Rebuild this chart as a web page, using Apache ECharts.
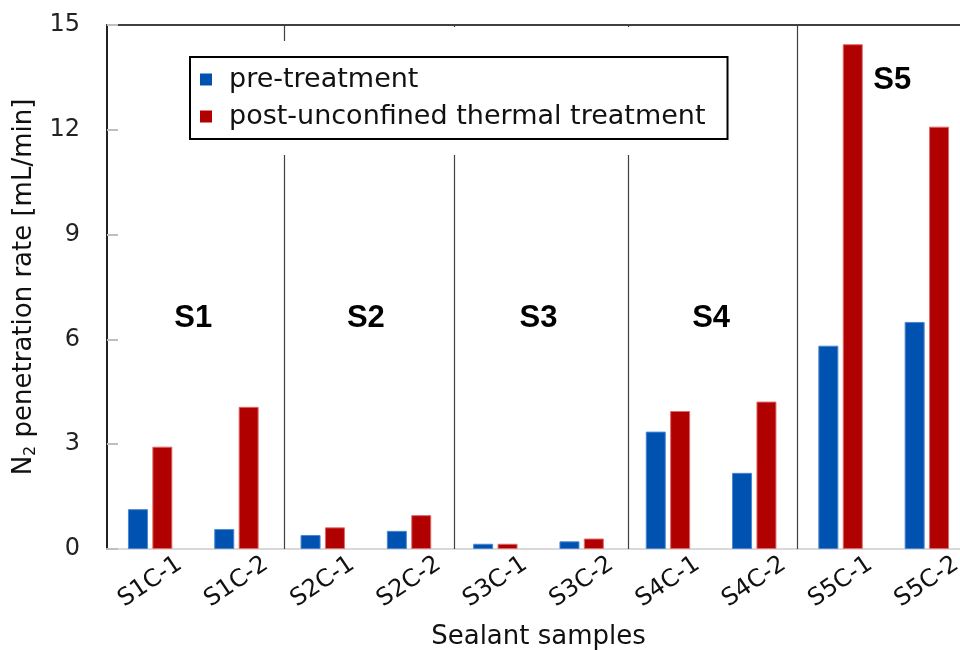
<!DOCTYPE html>
<html>
<head>
<meta charset="utf-8">
<script src="https://cdn.jsdelivr.net/npm/echarts@6/dist/echarts.min.js"></script>
<style>html,body{margin:0;padding:0;background:#fff}#c{width:960px;height:650px}</style>
</head>
<body>
<div id="c"></div>
<script>
const categories = ['S1C-1','S1C-2','S2C-1','S2C-2','S3C-1','S3C-2','S4C-1','S4C-2','S5C-1','S5C-2'];
const preTreatment = [1.14, 0.57, 0.40, 0.52, 0.15, 0.22, 3.36, 2.18, 5.82, 6.50];
const postTreatment = [2.93, 4.07, 0.62, 0.97, 0.15, 0.30, 3.95, 4.22, 14.45, 12.09];
const seriesNames = ['pre-treatment', 'post-unconfined thermal treatment'];
const yTicks = [0, 3, 6, 9, 12, 15];
const groupSeparators = [2.05, 4.02, 6.04, 8.0];
const groupNames = ['S1', 'S2', 'S3', 'S4', 'S5'];
const groupLabelX = [1, 3, 5, 7, 9.1];
const groupLabelY = [6.6, 6.6, 6.6, 6.6, 13.4];

const FONT = 'DejaVu Sans';
const chart = echarts.init(document.getElementById('c'));
chart.setOption({
  animation: false,
  backgroundColor: '#fff',
  grid: { left: 107, right: -10, top: 25, bottom: 101, containLabel: false, outerBoundsMode: 'none' },
  legend: {
    orient: 'vertical', left: 190, top: 57,
    backgroundColor: '#fff', borderColor: '#000', borderWidth: 2,
    padding: [9, 22, 9, 10],
    itemWidth: 12, itemHeight: 12, itemGap: 10,
    icon: 'rect',
    itemStyle: { borderWidth: 0 },
    textStyle: { fontFamily: FONT, fontSize: 27, color: '#111', padding: [0, 0, 0, 12] },
    data: seriesNames,
    z: 10
  },
  graphic: [{
    type: 'rect', z: 8, silent: true,
    shape: { x: 190, y: 41, width: 110, height: 114 },
    style: { fill: '#fff' }
  }, {
    type: 'rect', z: 8, silent: true,
    shape: { x: 300, y: 27, width: 435, height: 128 },
    style: { fill: '#fff' }
  }],
  xAxis: [{
    type: 'category', data: categories, position: 'bottom',
    axisLine: { lineStyle: { color: '#d9d9d9', width: 2 } },
    axisTick: { show: false },
    axisLabel: { rotate: 34, align: 'center', verticalAlign: 'middle', margin: 33,
      fontFamily: FONT, fontSize: 24, color: '#111', interval: 0 },
    name: 'Sealant samples', nameLocation: 'middle', nameGap: 75,
    nameTextStyle: { fontFamily: FONT, fontSize: 26, color: '#111' }
  }, {
    type: 'value', min: 0, max: 10, position: 'top',
    axisLine: { show: true, lineStyle: { color: '#404040', width: 2 } },
    axisTick: { show: false }, axisLabel: { show: false }, splitLine: { show: false }
  }],
  yAxis: [{
    type: 'value', min: yTicks[0], max: yTicks[yTicks.length - 1], interval: yTicks[1] - yTicks[0],
    axisLine: { show: true, lineStyle: { color: '#222', width: 2 } },
    axisTick: { show: true, inside: true, length: 11, lineStyle: { color: '#bfbfbf', width: 2 } },
    axisLabel: { fontFamily: FONT, fontSize: 24, color: '#222', margin: 27 },
    splitLine: { show: false },
    name: 'N{sub|2} penetration rate [mL/min]', nameLocation: 'middle', nameGap: 57, nameRotate: 90,
    nameTextStyle: { fontFamily: FONT, fontSize: 26, color: '#111',
      rich: { sub: { fontFamily: FONT, fontSize: 16, color: '#111', padding: [12, 0, 0, 0] } } }
  }],
  series: [{
    name: seriesNames[0], type: 'bar', data: preTreatment,
    barWidth: 20, barGap: '22%',
    itemStyle: { color: '#0052b0', borderColor: '#4a86d0', borderWidth: 1 }
  }, {
    name: seriesNames[1], type: 'bar', data: postTreatment,
    barWidth: 20, barGap: '22%',
    itemStyle: { color: '#b00000', borderColor: '#e06a6a', borderWidth: 1 }
  }, {
    name: 'separators', type: 'scatter', xAxisIndex: 1, yAxisIndex: 0, data: [],
    silent: true, z: 2,
    markLine: {
      silent: true, symbol: ['none', 'none'], animation: false, z: 2,
      label: { show: false },
      lineStyle: { color: '#404040', width: 1.2, type: 'solid' },
      data: groupSeparators.map(v => ({ xAxis: v }))
    }
  }, {
    name: 'groups', type: 'scatter', xAxisIndex: 1, yAxisIndex: 0, silent: true,
    symbolSize: 0, itemStyle: { color: '#000', opacity: 1 },
    data: groupNames.map((n, i) => [groupLabelX[i], groupLabelY[i], n]),
    label: { show: true, position: 'inside', formatter: p => p.value[2], opacity: 1,
      fontFamily: 'Liberation Sans', fontWeight: 'bold', fontSize: 31, color: '#000' },
    z: 6
  }]
});
</script>
</body>
</html>
